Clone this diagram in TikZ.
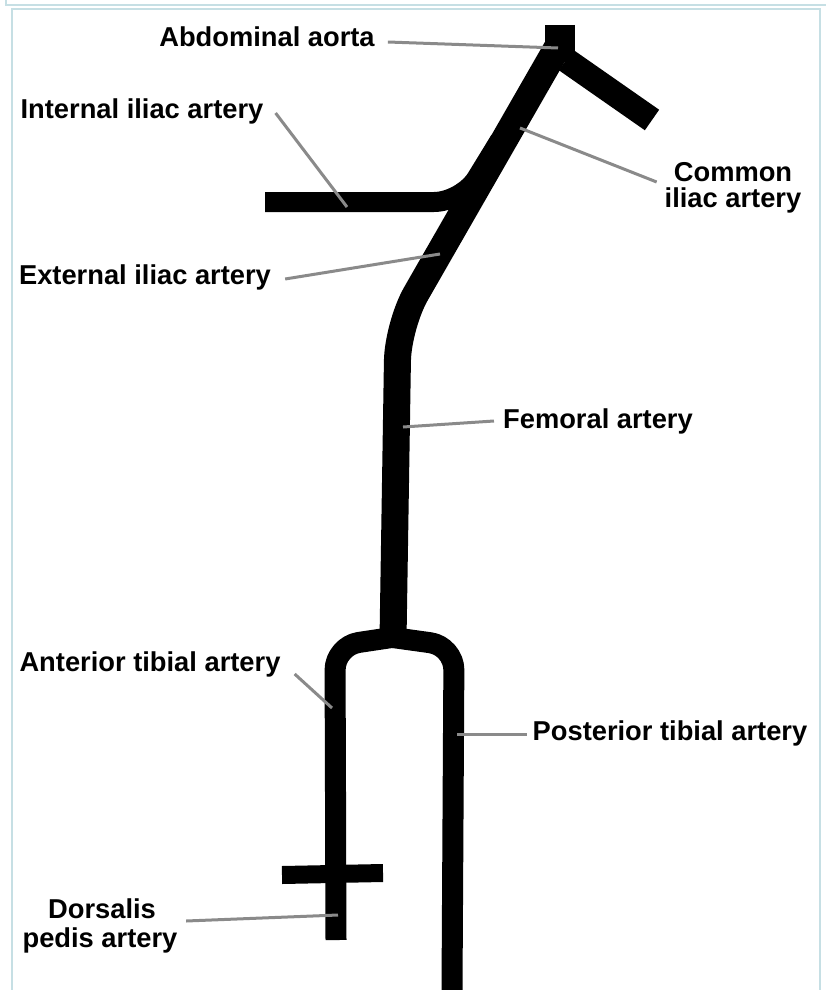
\documentclass[tikz,border=0pt]{standalone}
\usepackage{fontspec}
\setmainfont{Liberation Sans}
\definecolor{framecol}{HTML}{C6DFE4}
\definecolor{leadcol}{HTML}{8A8A8A}
\begin{document}
\begin{tikzpicture}[x=1pt,y=-1pt,
  vessel/.style={draw=black,line cap=butt,line join=round},
  leader/.style={draw=leadcol,line width=3pt,line cap=butt},
  label/.style={inner sep=0pt,anchor=base,font=\fontsize{27.3}{27}\selectfont\bfseries},
  framepen/.style={draw=framecol,line width=1.6pt}]
\useasboundingbox (0,0) rectangle (825,990);

% page frame
\draw[framepen] (6,0) -- (6,5) -- (830,5);
\draw[framepen] (12,1000) -- (12,9) -- (820,9) -- (820,1000);

% arterial tree
\draw[vessel,line width=30pt] (560,25) -- (560,62);
\draw[vessel,line width=25pt] (566,60) -- (652,120);
\draw[vessel,line width=27pt,rounded corners=36pt] (557,48) -- (398,325) -- (393,640);
\draw[vessel,line width=20pt,rounded corners=28pt] (265,202) -- (462,202) -- (500,140);
\draw[vessel,line width=21pt,rounded corners=24pt] (395,637) -- (335,646) -- (336,940);
\draw[vessel,line width=21pt,rounded corners=24pt] (389,637) -- (454,646) -- (452,990);
\draw[vessel,line width=18pt] (282,875) -- (383,873);

% points on the vessels
\coordinate (pAorta) at (558,48);
\coordinate (pInt) at (347,207);
\coordinate (pCom) at (520,128);
\coordinate (pExt) at (440,254);
\coordinate (pFem) at (403,427);
\coordinate (pAnt) at (332,708);
\coordinate (pPost) at (457,734);
\coordinate (pDors) at (338,915);

% labels
\node[label] (abd) at (267,47) {Abdominal aorta};
\node[label] (int) at (142,118) {Internal iliac artery};
\node[label] (com1) at (733,181) {Common};
\node[label] (com2) at (733,207) {iliac artery};
\node[label] (ext) at (145,284) {External iliac artery};
\node[label] (fem) at (598,428) {Femoral artery};
\node[label] (ant) at (150,671) {Anterior tibial artery};
\node[label] (post) at (670,740) {Posterior tibial artery};
\node[label] (dors1) at (102,918) {Dorsalis};
\node[label] (dors2) at (100,947) {pedis artery};

% leaders
\draw[leader] ([shift={(13pt,5pt)}]abd.base east) -- (pAorta);
\draw[leader] ([shift={(12pt,5pt)}]int.base east) -- (pInt);
\draw[leader] ([shift={(-17pt,-1pt)}]com1.base west) -- (pCom);
\draw[leader] ([shift={(14pt,5pt)}]ext.base east) -- (pExt);
\draw[leader] ([shift={(-9pt,7pt)}]fem.base west) -- (pFem);
\draw[leader] ([shift={(14pt,-3pt)}]ant.base east) -- (pAnt);
\draw[leader] ([shift={(-6pt,6pt)}]post.base west) -- (pPost);
\draw[leader] ([shift={(30pt,-3pt)}]dors1.base east) -- (pDors);
\end{tikzpicture}
\end{document}
